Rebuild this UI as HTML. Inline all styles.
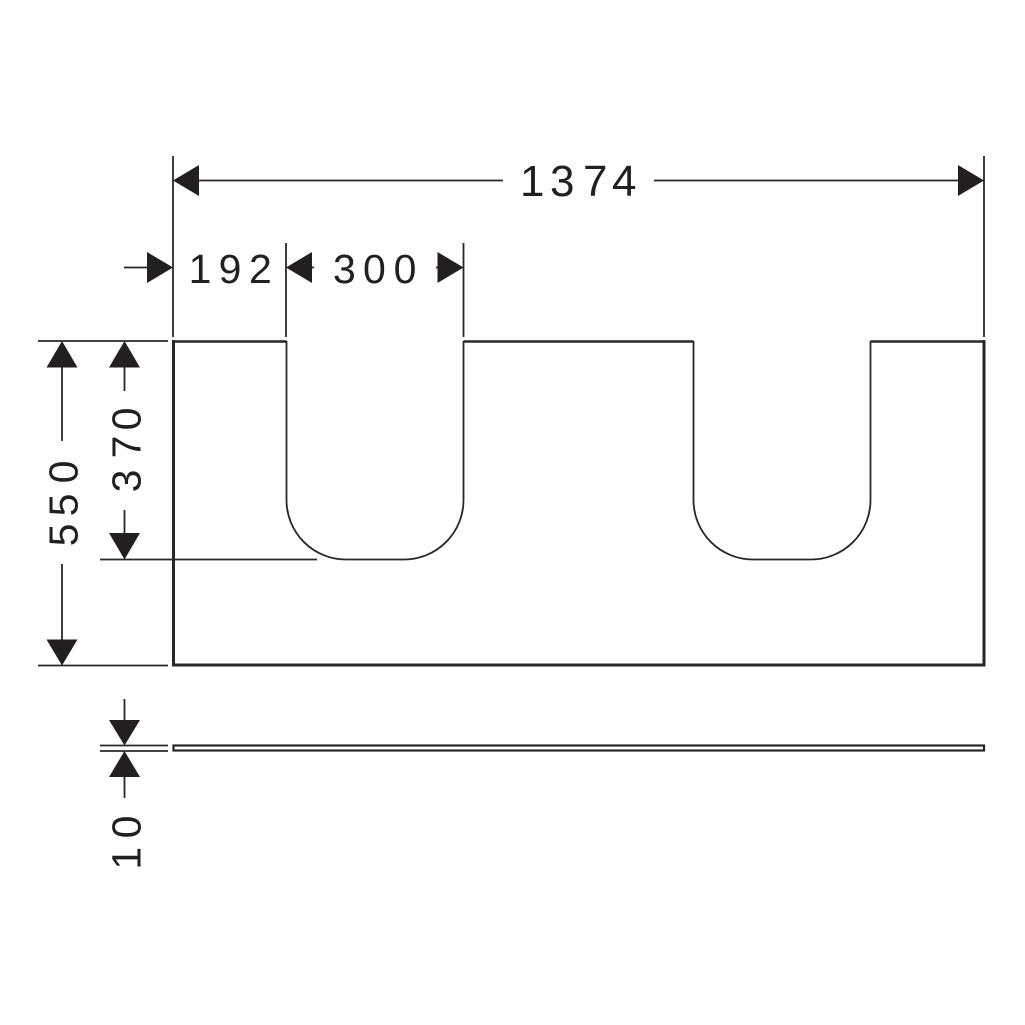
<!DOCTYPE html>
<html><head><meta charset="utf-8"><style>
html,body{margin:0;padding:0;background:#fff}
svg{display:block}
text{font-family:"Liberation Sans",sans-serif;font-size:41px;fill:#231f20}
</style></head><body>
<svg width="1025" height="1025" viewBox="0 0 1025 1025" xmlns="http://www.w3.org/2000/svg">
<rect width="1025" height="1025" fill="#fff"/>
<g fill="none" stroke="#2a2728">
<!-- main outline -->
<path stroke-width="3" d="M173.500 340V665H984V340"/>
<path stroke-width="2.400" d="M172 341.500H286.500M463.500 341.500H693.500M870.500 341.500H985"/>
<path stroke-width="1.800" d="M286.500 341V500A59.500 59.500 0 0 0 346 559.500H404A59.500 59.500 0 0 0 463.500 500V341M693.500 341V500A59.500 59.500 0 0 0 753 559.500H811A59.500 59.500 0 0 0 870.500 500V341"/>
<!-- side view -->
<rect x="173.500" y="745.500" width="810.500" height="5" stroke-width="2.200"/>
<g stroke-width="1.800">
<!-- extension lines -->
<path d="M173 156V337M286 243V337M463.500 243V337M984 156V337"/>
<path d="M38 341H168M38 665.500H168M100 559.500H317M100 745.500H168M100 751H168"/>
<!-- dimension lines -->
<path d="M198 180.500H503M654 180.500H960"/>
<path d="M124 267.500H148M312 267.500H314M436 267.500H438"/>
<path d="M62 366V441M62 564V640M124.500 366V391M124.500 510V534"/>
<path d="M124.500 699V720M124.500 777V798"/>
</g>
</g>
<g fill="#231f20">
<!-- horizontal arrows -->
<path d="M173 180.500L199 165V196ZM984 180.500L958 165V196Z"/>
<path d="M173 267.500L147 252V283ZM286 267.500L312 252V283ZM463.500 267.500L437.500 252V283Z"/>
<!-- vertical arrows -->
<path d="M62 341L46.500 367.500H77.500ZM62 665.500L46.500 639.500H77.500Z"/>
<path d="M124.500 341L109 367.500H140ZM124.500 559.500L109 533H140Z"/>
<path d="M124.500 745.500L109 720H140ZM124.500 751L109 777H140Z"/>
</g>
<text x="520 550 583 612" y="196" style="font-size:44px">1374</text>
<text x="188.600 218.600 249" y="283">192</text>
<text x="333 363 393.600" y="283">300</text>
<text transform="translate(77.500 0) rotate(-90)" x="-546.400 -516.400 -483.400" y="0">550</text>
<text transform="translate(140.500 0) rotate(-90)" x="-492.400 -458.400 -430.400" y="0">370</text>
<text transform="translate(140.500 0) rotate(-90)" x="-869.600 -838.400" y="0">10</text>
</svg>
</body></html>
